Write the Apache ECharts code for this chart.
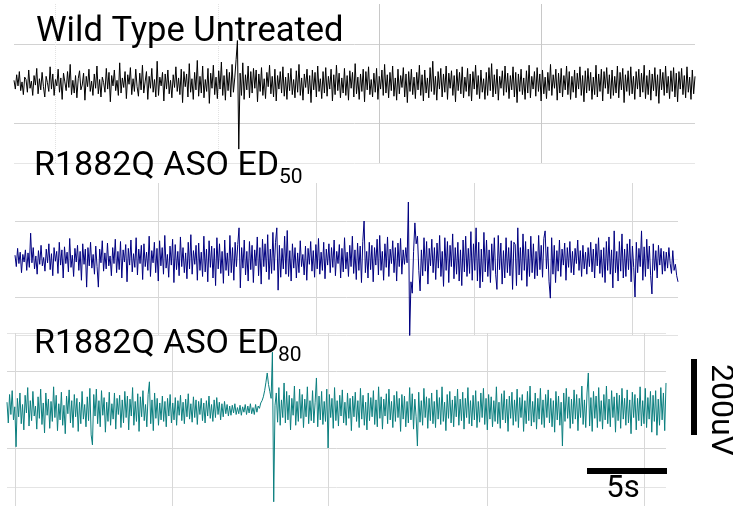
<!DOCTYPE html>
<html><head><meta charset="utf-8">
<script src="https://cdn.jsdelivr.net/npm/echarts@6.0.0/dist/echarts.min.js"></script>
<style>html,body{margin:0;padding:0;background:#fff}#c{width:733px;height:506px}</style>
</head><body><div id="c"></div>
<script>
// EEG traces (uV), sampled uniformly over each panel's duration (s)
const wildTypeUntreated = [
8,-14,22,-6,30,-18,4,-28,16,10,-22,34,-12,6,-30,20,-4,38,-26,12,-16,28,-8,-34,18,2,-20,42,-14,24,
-30,10,-6,36,-22,14,-40,26,4,-18,30,-10,48,-28,8,-24,20,-36,12,32,-16,-4,26,-42,18,-8,36,-20,6,-30,
24,-12,44,-26,10,-34,16,2,-22,38,-14,28,-46,20,-6,34,-18,8,-30,52,-24,14,-10,30,-38,22,-2,40,-28,12,
-20,36,-8,-32,26,-16,46,-24,4,30,-40,18,-12,38,-22,10,-34,56,-30,16,-6,28,-44,24,-14,34,-26,8,-36,22,
-10,42,-20,14,-28,36,-48,30,-8,24,-34,50,-22,12,-40,28,-16,58,-32,18,-24,44,-36,10,-20,38,-50,26,-12,46,
-28,16,-38,32,-14,54,-30,20,-42,36,-18,28,-34,48,-22,14,60,108,-165,26,-30,52,-40,22,-16,44,-36,30,-24,38,
-12,34,-46,24,-20,40,-30,12,-38,28,-8,46,-26,18,-34,36,-44,20,-14,30,-24,42,-32,16,-40,26,-18,38,-28,10,
-36,32,-22,48,-30,14,-42,24,-10,36,-26,20,-48,34,-16,28,-34,44,-20,12,-38,30,-24,40,-32,18,-14,36,-44,22,
-28,46,-18,26,-36,14,-24,38,-30,20,-42,32,-12,28,-34,50,-26,16,-40,24,-20,36,-46,30,-16,42,-28,10,-34,26,
-22,38,-40,18,-14,34,-30,48,-24,22,-36,28,-18,44,-32,14,-42,36,-26,20,-10,40,-34,24,-48,30,-20,36,-28,16,
-38,28,-16,46,-30,22,-44,34,-24,14,-36,40,-20,56,-28,18,-42,30,-14,38,-34,24,-22,44,-40,26,-12,32,-30,20,
-46,36,-18,28,-26,42,-36,16,-20,38,-32,24,-44,30,-14,46,-28,20,-38,34,-22,12,-40,28,-30,40,-18,50,-34,22,
-26,36,-42,18,-12,32,-30,44,-22,26,-38,20,-16,42,-34,28,-48,24,-20,36,-28,14,-40,32,-24,46,-36,18,-14,30,
-32,40,-20,24,-44,34,-26,16,-38,28,-18,48,-30,22,-12,36,-42,26,-24,38,-34,20,-16,44,-28,30,-40,18,-22,34,
-36,26,-14,42,-30,20,-46,32,-24,38,-18,28,-40,16,-28,46,-34,24,-20,36,-44,30,-12,40,-26,22,-38,34,-30,18,
-24,44,-36,28,-16,38,-48,22,-20,32,-30,42,-26,18,-40,30,-14,36,-34,26,-22,46,-38,20,-28,34,-42,24,-18,40,
-32,22,-50,36,-16,28,-30,44,-24,18,-38,32,-20,40,-34,26,-46,30,-14,38,-28,20,-36,42,-22,16,-40,34,-26,18
];
const asoED50 = [
10,-20,28,-12,18,-36,12,-8,24,-30,16,-22,68,-10,30,-26,8,-40,22,-14,36,-18,4,-32,26,-10,40,-28,14,-44,
30,-6,20,-38,44,-16,24,-50,32,-12,18,-34,54,-22,10,-46,28,-8,36,-30,20,-56,40,-14,26,-74,30,-18,44,-24,
12,-40,34,-20,-74,26,-10,48,-32,16,-26,42,-18,8,-44,30,-12,52,-36,20,-28,46,-50,24,-8,38,-60,28,-16,50,
-34,14,-22,56,-42,26,-12,36,-54,40,-20,18,-30,60,-46,22,-10,44,-36,28,-58,48,-18,30,-40,62,-24,12,-48,34,
-16,52,-62,38,-28,20,-44,58,-20,30,-36,16,-52,44,-26,64,-40,22,-14,36,-56,42,-30,18,-46,60,-34,26,-60,48,
-22,34,-50,28,-70,56,-26,40,-38,20,-64,50,-30,16,-44,62,-36,30,-56,44,-20,38,82,-76,30,-24,50,-42,20,-58,
46,-28,36,-62,24,-18,58,-44,30,-66,52,-20,40,-34,64,-54,26,-38,70,-30,44,82,-82,36,-48,28,-26,60,-40,75,
-46,22,-58,40,-24,30,-50,16,-36,48,-20,12,-42,34,-56,28,-14,46,-32,22,-48,38,-26,54,-40,18,-30,44,-52,26,
-16,40,-36,30,-22,50,-44,20,-12,38,-50,28,-34,56,-26,18,-46,36,-20,60,-38,24,-54,42,-30,34,-62,46,100,-36,
20,-50,44,-28,36,-60,30,-16,52,-42,62,-30,20,-56,40,-22,58,-46,26,-12,48,-36,30,-58,42,-20,54,-40,24,-14,
30,-10,150,-205,-60,-90,20,95,40,60,-30,-84,24,-44,56,-32,46,-66,28,-18,52,-36,30,-54,42,-24,62,-46,20,-72,
56,-30,46,-62,36,-20,66,-52,30,-40,44,-58,24,-70,50,-34,60,-46,28,-38,72,-56,40,-30,82,-58,44,-76,26,-60,
70,-34,50,-46,24,-62,40,-30,56,-40,-80,62,-28,42,-66,22,-50,56,-36,30,-44,48,-80,44,38,-70,82,-42,30,-56,
66,-30,46,-72,26,-46,60,-36,40,-52,20,-44,62,-28,36,-48,54,74,-26,32,-60,-103,56,-40,36,-62,22,-32,50,-46,
26,-16,42,-56,30,-22,46,-36,20,-42,28,-12,50,-30,22,-46,36,-26,18,-40,30,-20,44,-34,26,-50,40,-18,56,-38,
24,-48,30,-62,46,-30,58,-40,24,-76,74,-36,20,-58,46,-32,66,-50,26,-46,40,-28,52,-60,34,-22,-100,44,-36,28,
-20,74,-56,32,-46,52,-26,34,-44,-92,40,-30,22,-50,36,-16,28,-40,20,-32,18,-24,30,-12,-38,22,-30,-14,-44,-60
];
const asoED80 = [
20,-34,40,-12,50,-26,8,-96,30,-18,44,-36,14,-52,38,-8,58,-42,24,-28,48,-16,10,-50,34,-22,54,-38,18,-60,
44,-14,28,-48,22,-30,60,-20,38,-54,16,-26,46,-40,12,-62,36,-10,52,-34,24,-46,40,-18,30,-56,20,-36,48,-24,
14,-44,34,-28,56,-65,-91,40,-16,54,-36,24,-44,50,-14,32,-58,20,-30,46,-40,16,-24,44,-50,30,-12,38,-46,26,
-34,48,-20,36,-52,28,-16,58,-40,22,-30,42,-56,34,-18,50,-28,14,-44,40,73,-36,26,-54,44,-22,30,-40,18,-26,
36,-30,22,-44,30,-16,40,-34,18,-26,32,-40,24,-14,38,-28,20,-36,28,-18,42,-24,16,-32,34,-20,26,-38,22,-12,
30,-28,18,-34,24,-16,36,-22,14,-30,26,-20,32,-12,20,-26,16,-18,22,-10,14,-16,10,-14,12,-8,16,-12,6,-10,
12,-14,8,-6,14,-12,10,-8,16,-10,6,-12,14,-6,10,4,18,24,34,50,72,96,66,48,30,150,-239,12,44,-32,
58,-40,26,-20,70,-34,48,-26,38,-52,30,-14,62,-40,22,-30,54,-22,40,-46,28,-18,60,-36,24,-28,50,-34,20,83,
-44,36,-26,48,-38,22,-30,54,-99,40,-20,30,-48,58,-28,24,-42,38,-16,52,-34,20,-40,44,-22,30,-54,36,-18,46,
-30,24,-46,56,-24,38,-40,20,-52,44,-28,32,-18,50,-38,26,-44,60,-22,34,-50,28,-16,42,-36,54,-26,22,-46,38,
-30,48,-20,30,-56,40,-24,36,-44,22,-34,58,-26,42,-50,28,-18,-94,46,-32,24,-40,56,-20,34,-48,30,-28,44,-36,
22,-46,52,-24,32,-38,60,-30,20,-54,40,-22,48,-34,26,-44,36,-18,54,-40,28,-28,46,-50,30,-20,58,-36,24,-42,
38,-26,50,-46,22,-32,44,-20,56,-38,30,-52,40,-24,34,-44,24,-30,60,-36,20,-48,42,-26,50,-34,28,-56,36,-22,
46,-40,26,-30,54,-46,32,-20,40,-56,24,-36,48,-28,62,-42,22,-32,44,-50,30,-24,56,-38,26,-46,40,-20,52,-34,
30,-44,24,-58,48,-26,36,-40,20,-94,44,-30,56,-22,34,-48,28,-36,52,-24,40,-54,30,-20,62,-38,26,-46,44,96,
-42,32,-56,48,-22,36,-46,58,-30,24,-50,40,-26,62,-36,28,-44,50,-20,34,-58,44,-28,38,-48,56,-24,30,-40,52,
-34,26,-62,46,-20,40,-52,30,-28,60,-42,24,-36,56,-46,32,-24,48,-58,38,-30,50,-66,28,-40,58,-26,44,-54,70
];
const durations = [42, 42, 41.8];               // seconds per panel
const vLines = [[2.53, 12.58, 22.52, 32.5], [9.1, 19.1, 29.1, 39.1], [0.5, 10.45, 20.4, 30.45, 40.4]];
const titles = ['Wild Type Untreated', 'R1882Q ASO ED', 'R1882Q ASO ED'];
const subs = ['', '50', '80'];
const scaleLabels = ['200uV', '5s'];

const traces = [wildTypeUntreated, asoED50, asoED80];
const colors = ['#000000', '#000080', '#0b7f7f'];
const grids = [
  {left: 14, top: 4, width: 681, height: 159},
  {left: 15, top: 183, width: 663, height: 152},
  {left: 7, top: 333, width: 659, height: 173}
];
const T = 'rgba(0,0,0,0)';
const yCfg = [
  {min: -200, max: 200, interval: 100, c: ['#e6e6e6', '#d2d2d2', T, '#d2d2d2', T]},
  {min: -200, max: 200, interval: 100, c: ['#e2e2e2', '#d6d6d6', '#eeeeee', '#d6d6d6', T]},
  {min: -250, max: 200, interval: 50, c: [T, '#e4e4e4', T, '#d6d6d6', T, T, T, '#d6d6d6', T, '#e4e4e4']}
];
const vStyles = [
  [{color: '#e2e2e2', type: 'dotted'}, {color: '#e2e2e2', type: 'dotted'}, {color: '#c8c8c8', type: 'solid'}, {color: '#c8c8c8', type: 'solid'}],
  null, null
];

const chart = echarts.init(document.getElementById('c'), null, {renderer: 'canvas'});
const option = {
  backgroundColor: '#ffffff',
  animation: false,
  grid: grids,
  xAxis: grids.map((g, k) => ({
    type: 'value', gridIndex: k, min: 0, max: durations[k], show: false, splitLine: {show: false}
  })),
  yAxis: grids.map((g, k) => ({
    type: 'value', gridIndex: k, min: yCfg[k].min, max: yCfg[k].max, interval: yCfg[k].interval,
    axisLine: {show: false}, axisTick: {show: false}, axisLabel: {show: false},
    splitLine: {show: true, lineStyle: {color: yCfg[k].c, width: 1}}
  })),
  series: traces.map((vals, k) => ({
    type: 'line', xAxisIndex: k, yAxisIndex: k, z: 3,
    data: vals.map((v, i) => [i * durations[k] / (vals.length - 1), v]),
    showSymbol: false, symbol: 'none', sampling: null, silent: true,
    lineStyle: {color: colors[k], width: 1},
    markLine: {
      silent: true, z: 1, symbol: ['none', 'none'], animation: false, label: {show: false},
      lineStyle: {color: '#d8d8d8', type: 'solid', width: 1},
      emphasis: {disabled: true},
      data: vLines[k].map((x, j) => {
        const d = {xAxis: x};
        if (vStyles[k]) d.lineStyle = Object.assign({width: 1}, vStyles[k][j]);
        return d;
      })
    }
  })),
  graphic: [
    {type: 'text', z: 100, x: 36, y: 32, style: {text: titles[0], font: '34.5px Roboto', fill: '#000', verticalAlign: 'middle'}},
    {type: 'text', z: 100, x: 34, y: 166, style: {text: titles[1], font: '34px Roboto', fill: '#000', verticalAlign: 'middle'}},
    {type: 'text', z: 100, x: 279, y: 178, style: {text: subs[1], font: '21px Roboto', fill: '#000', verticalAlign: 'middle'}},
    {type: 'text', z: 100, x: 34, y: 344, style: {text: titles[2], font: '34px Roboto', fill: '#000', verticalAlign: 'middle'}},
    {type: 'text', z: 100, x: 278, y: 356, style: {text: subs[2], font: '21px Roboto', fill: '#000', verticalAlign: 'middle'}},
    {type: 'rect', z: 100, shape: {x: 691, y: 359, width: 6, height: 76}, style: {fill: '#000'}},
    {type: 'rect', z: 100, shape: {x: 587, y: 468, width: 80, height: 6}, style: {fill: '#000'}},
    {type: 'text', z: 100, x: 720, y: 410, rotation: -Math.PI / 2, style: {text: scaleLabels[0], font: '32px Roboto', fill: '#000', align: 'center', verticalAlign: 'middle'}},
    {type: 'text', z: 100, x: 623, y: 489, style: {text: scaleLabels[1], font: '31px Roboto', fill: '#000', align: 'center', verticalAlign: 'middle'}}
  ]
};
chart.setOption(option);
</script>
</body></html>
